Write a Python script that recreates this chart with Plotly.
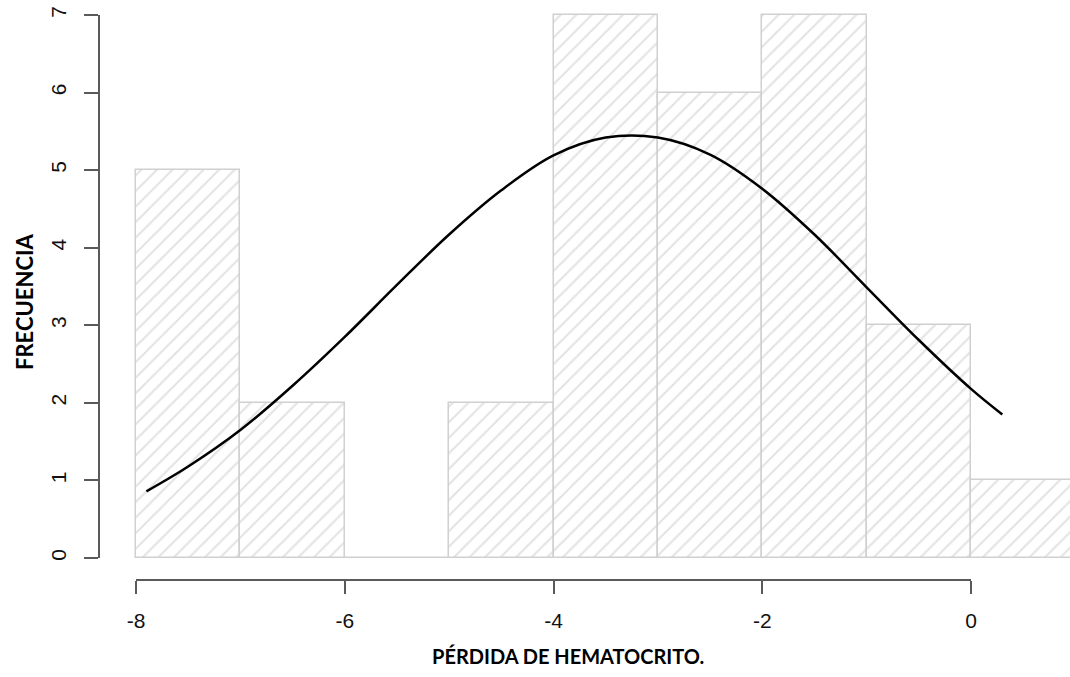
import plotly.graph_objects as go

# Histogram data (bin edges, width 1)
bin_left = [-8, -7, -6, -5, -4, -3, -2, -1, 0]
counts = [5, 2, 0, 2, 7, 6, 7, 3, 1]
bin_width = 1

# Fitted normal curve
curve_x = [-7.9, -7.5, -7.0, -6.5, -6.0, -5.5, -5.0, -4.5, -4.0, -3.5, -3.0,
           -2.5, -2.0, -1.5, -1.0, -0.5, 0.0, 0.3]
curve_y = [0.86, 1.18, 1.65, 2.22, 2.85, 3.52, 4.17, 4.74, 5.19, 5.42, 5.42,
           5.20, 4.76, 4.17, 3.49, 2.81, 2.18, 1.85]

x_ticks = [-8, -6, -4, -2, 0]
y_ticks = [0, 1, 2, 3, 4, 5, 6, 7]

x_title = "PÉRDIDA DE HEMATOCRITO."
y_title = "FRECUENCIA"

W, H = 1070, 677
# pixel layout
px_x0, px_x8 = 971, 136      # x=0, x=-8
py_y0, py_y7 = 558, 15       # y=0, y=7
sx = (px_x0 - px_x8) / 8.0
sy = (py_y0 - py_y7) / 7.0
xr = [-8 - px_x8 / sx, -8 + (W - px_x8) / sx]
yr = [-(H - py_y0) / sy, py_y0 / sy]

fig = go.Figure()
fig.add_trace(go.Bar(
    x=[b + bin_width / 2 for b in bin_left], y=counts, width=bin_width,
    marker=dict(color="white",
                line=dict(color="#d0d0d0", width=1.5),
                pattern=dict(shape="/", fgcolor="#c8c8c8", bgcolor="white",
                             size=11, solidity=0.2)),
    xaxis="x", yaxis="y", hoverinfo="skip", showlegend=False))
fig.add_trace(go.Scatter(
    x=curve_x, y=curve_y, mode="lines", line=dict(color="black", width=2.5, shape="spline"),
    xaxis="x", yaxis="y", showlegend=False))
# dummy trace for display axes
fig.add_trace(go.Scatter(x=[x_ticks[0], x_ticks[-1]], y=[y_ticks[0], y_ticks[-1]],
                         mode="markers", marker=dict(opacity=0), xaxis="x2", yaxis="y2",
                         hoverinfo="skip", showlegend=False))

axcol = "#5a5a5a"
tickfont = dict(family="Liberation Sans", size=21, color="#111")
fig.update_layout(
    width=W, height=H, margin=dict(l=0, r=0, t=0, b=0, autoexpand=False),
    paper_bgcolor="white", plot_bgcolor="rgba(0,0,0,0)",
    bargap=0,
    xaxis=dict(domain=[0, 1], range=xr, visible=False, showgrid=False, automargin=False),
    yaxis=dict(domain=[0, 1], range=yr, visible=False, showgrid=False, automargin=False),
    xaxis2=dict(domain=[px_x8 / W, px_x0 / W], range=[-8, 0], anchor="free",
                position=(H - 580) / H, showline=True, linecolor=axcol, linewidth=1.5,
                ticks="outside", ticklen=13, tickwidth=1.5, tickcolor=axcol,
                tickvals=x_ticks, ticktext=[str(v) for v in x_ticks],
                tickfont=tickfont, ticklabelstandoff=9, automargin=False,
                showgrid=False, zeroline=False),
    yaxis2=dict(domain=[(H - py_y0) / H, (H - py_y7) / H], range=[0, 7], anchor="free",
                position=99 / W, showline=True, linecolor=axcol, linewidth=1.5,
                ticks="outside", ticklen=14, tickwidth=1.5, tickcolor=axcol,
                tickvals=y_ticks, ticktext=[str(v) for v in y_ticks], tickangle=-90,
                tickfont=tickfont, ticklabelstandoff=10, automargin=False,
                showgrid=False, zeroline=False),
    annotations=[
        dict(text=x_title, xref="paper", yref="paper", x=(432 + 703) / 2 / W,
             y=(H - 656) / H, showarrow=False, xanchor="center", yanchor="middle",
             font=dict(family="Lato", size=20, color="black", weight="bold")),
        dict(text=y_title, xref="paper", yref="paper", x=24 / W, y=(H - 302) / H,
             showarrow=False, textangle=-90, xanchor="center", yanchor="middle",
             font=dict(family="Lato", size=22, color="black", weight="bold")),
    ],
)
fig.write_html("out.html")
